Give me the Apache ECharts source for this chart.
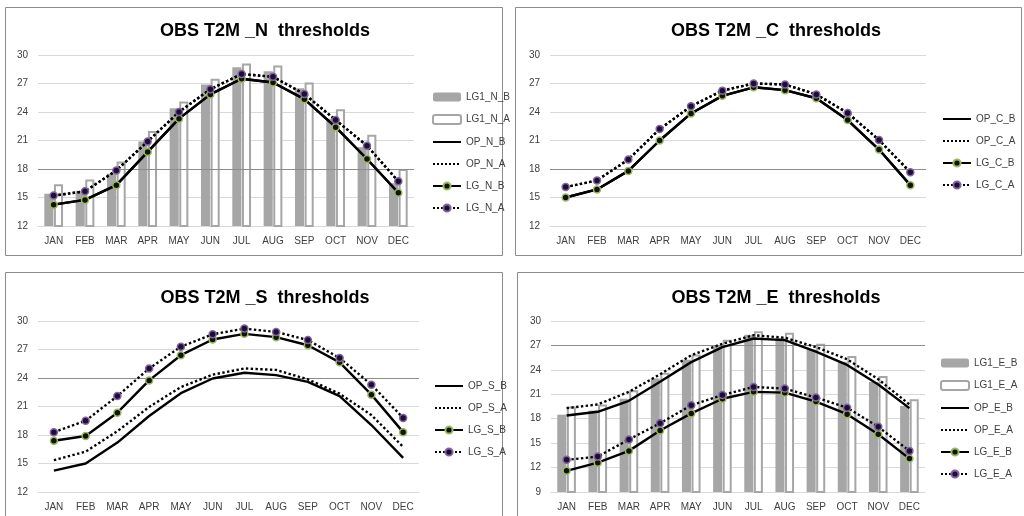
<!DOCTYPE html>
<html><head><meta charset="utf-8">
<script src="https://cdn.jsdelivr.net/npm/echarts@6/dist/echarts.min.js"></script>
<style>html,body{margin:0;padding:0;background:#fff}#c{width:1024px;height:516px}</style>
</head><body><div id="c"></div>
<script>
const months = ['JAN','FEB','MAR','APR','MAY','JUN','JUL','AUG','SEP','OCT','NOV','DEC'];
const yTicksTop = [12,15,18,21,24,27,30];
const yTicksE = [9,12,15,18,21,24,27,30];

// Panel N
const nLG1B = [15.4,15.7,17.5,20.9,24.4,26.9,28.7,28.3,26.5,23.3,20.3,16.5];
const nLG1A = [16.4,16.9,18.8,22.0,25.1,27.5,29.1,28.9,27.1,24.3,21.6,18.0];
const nOPB  = [14.25,14.75,16.3,19.8,23.3,25.85,27.5,27.1,25.35,22.4,19.05,15.5];
const nOPA  = [15.2,15.65,17.85,20.9,24.0,26.4,28.0,27.7,25.9,23.15,20.45,16.7];
const nLGB  = [14.25,14.75,16.3,19.8,23.3,25.85,27.5,27.1,25.35,22.4,19.05,15.5];
const nLGA  = [15.2,15.65,17.85,20.9,24.0,26.4,28.0,27.7,25.9,23.15,20.45,16.7];
// Panel C
const cOPB = [15.0,15.85,17.8,21.0,23.85,25.7,26.6,26.3,25.45,23.15,20.05,16.3];
const cOPA = [16.1,16.8,19.0,22.2,24.6,26.25,27.0,26.9,25.85,23.9,21.05,17.65];
const cLGB = [15.0,15.85,17.8,21.0,23.85,25.7,26.6,26.3,25.45,23.15,20.05,16.3];
const cLGA = [16.1,16.8,19.0,22.2,24.6,26.25,27.0,26.9,25.85,23.9,21.05,17.65];
// Panel S
const sOPB = [14.25,15.0,17.2,20.0,22.4,23.95,24.55,24.3,23.6,22.1,19.05,15.6];
const sOPA = [15.35,16.25,18.4,20.95,23.05,24.35,25.0,24.85,23.85,22.35,20.1,16.75];
const sLGB = [17.4,17.9,20.35,23.75,26.4,28.05,28.65,28.3,27.45,25.65,22.25,18.3];
const sLGA = [18.3,19.5,22.1,25.0,27.3,28.6,29.2,28.85,28.0,26.1,23.3,19.8];
// Panel E
const eLG1B = [18.5,19.0,20.45,22.95,25.25,27.05,28.3,27.95,26.5,25.0,22.5,19.55];
const eLG1A = [19.5,19.75,21.5,23.65,25.9,27.7,28.75,28.55,27.2,25.7,23.25,20.4];
const eOPB  = [18.4,18.85,20.2,22.55,24.95,26.8,27.85,27.65,26.25,24.6,22.2,19.3];
const eOPA  = [19.3,19.75,21.3,23.45,25.8,27.2,28.25,27.95,26.8,25.3,22.85,19.75];
const eLGB  = [11.6,12.6,14.05,16.55,18.65,20.45,21.3,21.2,20.1,18.55,16.1,13.1];
const eLGA  = [12.95,13.35,15.45,17.45,19.65,20.9,21.9,21.7,20.6,19.35,17.0,14.05];

const GREEN = '#9bbb59', PURPLE = '#8064a2';
const FONT = 'Liberation Sans';

function bar(name, data, idx, filled){
  return {name, type:'bar', xAxisIndex:idx, yAxisIndex:idx, data,
    barWidth:'29%', barGap:'6%',
    itemStyle: filled ? {color:'#a6a6a6'} : {color:'#ffffff', borderColor:'#a6a6a6', borderWidth:2},
    emphasis:{disabled:true}};
}
function line(name, data, idx, dotted, marker){
  const s = {name, type:'line', xAxisIndex:idx, yAxisIndex:idx, data, z:5,
    lineStyle:{color:'#000', width:2.4, type: dotted ? 'dotted' : 'solid'},
    itemStyle:{color:'#000'}, emphasis:{disabled:true}};
  if (marker){
    s.symbol='circle'; s.symbolSize=7; s.showSymbol=true;
    s.itemStyle={color: marker===GREEN ? '#111' : '#1d0f33', borderColor:marker, borderWidth:1.5};
  } else { s.symbol='none'; s.showSymbol=false; }
  return s;
}
function darkLine(val){
  return {silent:true, symbol:'none', label:{show:false},
    lineStyle:{color:'#8c8c8c', width:1, type:'solid'}, data:[{yAxis:val}]};
}

const grids = [
  {left:38, top:55, width:376, height:171},
  {left:550, top:55, width:376, height:171},
  {left:38, top:321, width:381, height:171},
  {left:551, top:321, width:374, height:171}
];
const yMins = [12,12,12,9];

const xAxis = grids.map((g,i)=>({type:'category', gridIndex:i, data:months,
  axisLine:{show:true, lineStyle:{color:'#d9d9d9'}}, axisTick:{show:false},
  axisLabel:{color:'#404040', fontSize:10, fontFamily:FONT, margin:10}}));
const yAxis = grids.map((g,i)=>({type:'value', gridIndex:i, min:yMins[i], max:30, interval:3,
  axisLine:{show:false}, axisTick:{show:false},
  splitLine:{lineStyle:{color:'#d9d9d9', width:1}},
  axisLabel:{color:'#404040', fontSize:10, fontFamily:FONT, margin:10}}));

const series = [
  bar('LG1_N_B', nLG1B, 0, true),
  bar('LG1_N_A', nLG1A, 0, false),
  line('OP_N_B', nOPB, 0, false, null),
  line('OP_N_A', nOPA, 0, true, null),
  line('LG_N_B', nLGB, 0, false, GREEN),
  line('LG_N_A', nLGA, 0, true, PURPLE),

  line('OP_C_B', cOPB, 1, false, null),
  line('OP_C_A', cOPA, 1, true, null),
  line('LG_C_B', cLGB, 1, false, GREEN),
  line('LG_C_A', cLGA, 1, true, PURPLE),

  line('OP_S_B', sOPB, 2, false, null),
  line('OP_S_A', sOPA, 2, true, null),
  line('LG_S_B', sLGB, 2, false, GREEN),
  line('LG_S_A', sLGA, 2, true, PURPLE),

  bar('LG1_E_B', eLG1B, 3, true),
  bar('LG1_E_A', eLG1A, 3, false),
  line('OP_E_B', eOPB, 3, false, null),
  line('OP_E_A', eOPA, 3, true, null),
  line('LG_E_B', eLGB, 3, false, GREEN),
  line('LG_E_A', eLGA, 3, true, PURPLE)
];
series[2].markLine = darkLine(18);
series[6].markLine = darkLine(18);
series[10].markLine = darkLine(24);
series[16].markLine = darkLine(27);

const titleStyle = {fontSize:18, fontWeight:'bold', color:'#000', fontFamily:FONT};
const title = [
  {text:'OBS T2M _N  thresholds', left:260, top:17, textAlign:'center', textStyle:titleStyle},
  {text:'OBS T2M _C  thresholds', left:771, top:17, textAlign:'center', textStyle:titleStyle},
  {text:'OBS T2M _S  thresholds', left:260, top:284, textAlign:'center', textStyle:titleStyle},
  {text:'OBS T2M _E  thresholds', left:771, top:284, textAlign:'center', textStyle:titleStyle}
];
const noSym = {color:'rgba(0,0,0,0)', borderColor:'rgba(0,0,0,0)', borderWidth:0};
function legItems(names){
  return names.map(n => n.indexOf('OP_')===0 ? {name:n, itemStyle:noSym} : {name:n});
}
const legBase = {orient:'vertical', itemWidth:28, itemHeight:9, itemGap:12,
  textStyle:{fontSize:10, color:'#404040', fontFamily:FONT}, selectedMode:false};
const legend = [
  Object.assign({}, legBase, {left:427, top:87, data:legItems(['LG1_N_B','LG1_N_A','OP_N_B','OP_N_A','LG_N_B','LG_N_A'])}),
  Object.assign({}, legBase, {left:937, top:109, data:legItems(['OP_C_B','OP_C_A','LG_C_B','LG_C_A'])}),
  Object.assign({}, legBase, {left:429, top:376, data:legItems(['OP_S_B','OP_S_A','LG_S_B','LG_S_A'])}),
  Object.assign({}, legBase, {left:935, top:353, data:legItems(['LG1_E_B','LG1_E_A','OP_E_B','OP_E_A','LG_E_B','LG_E_A'])})
];

const borderStyle = {fill:'none', stroke:'#8c8c8c', lineWidth:1};
const graphic = [
  {type:'rect', shape:{x:5.5,y:7.5,width:497,height:248}, style:borderStyle, silent:true},
  {type:'rect', shape:{x:515.5,y:7.5,width:506,height:248}, style:borderStyle, silent:true},
  {type:'rect', shape:{x:5.5,y:272.5,width:497,height:260}, style:borderStyle, silent:true},
  {type:'rect', shape:{x:517.5,y:272.5,width:510,height:260}, style:borderStyle, silent:true}
];

const chart = echarts.init(document.getElementById('c'), null, {renderer:'canvas'});
chart.setOption({animation:false, backgroundColor:'#fff', title, legend, grid:grids, xAxis, yAxis, series, graphic});
</script></body></html>
